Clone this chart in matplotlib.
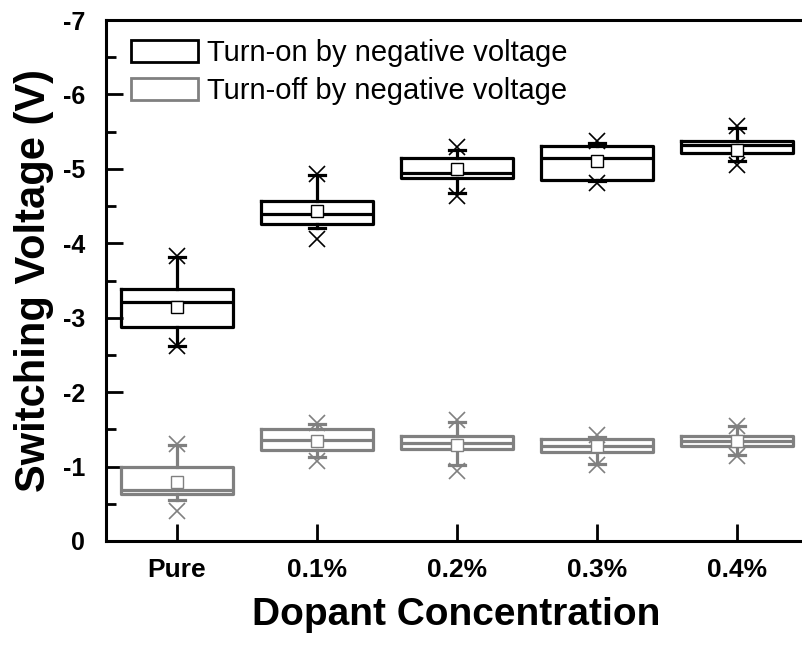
import matplotlib
matplotlib.use("Agg")
from matplotlib import pyplot as plt
from matplotlib.patches import Patch

plt.rcParams['font.family'] = ['Liberation Sans', 'DejaVu Sans']
plt.rcParams['axes.unicode_minus'] = False

categories = ['Pure', '0.1%', '0.2%', '0.3%', '0.4%']

# turn-on by negative voltage (black)
on_min = [-3.83, -4.93, -5.29, -5.38, -5.57]
on_whislo = [-3.82, -4.92, -5.26, -5.35, -5.55]
on_q1 = [-3.39, -4.57, -5.14, -5.31, -5.37]
on_med = [-3.21, -4.39, -4.95, -5.15, -5.32]
on_q3 = [-2.88, -4.26, -4.88, -4.85, -5.21]
on_whishi = [-2.62, -4.20, -4.67, -4.84, -5.11]
on_max = [-2.62, -4.06, -4.63, -4.81, -5.05]
on_mean = [-3.15, -4.43, -5.00, -5.11, -5.26]

# turn-off by negative voltage (gray)
off_min = [-1.30, -1.58, -1.62, -1.43, -1.55]
off_whislo = [-1.29, -1.57, -1.60, -1.40, -1.54]
off_q1 = [-0.99, -1.50, -1.41, -1.37, -1.41]
off_med = [-0.69, -1.36, -1.31, -1.27, -1.35]
off_q3 = [-0.63, -1.22, -1.23, -1.20, -1.27]
off_whishi = [-0.55, -1.13, -1.02, -1.03, -1.16]
off_max = [-0.40, -1.08, -0.94, -1.02, -1.14]
off_mean = [-0.79, -1.34, -1.29, -1.28, -1.34]

legend_labels = ['Turn-on by negative voltage', 'Turn-off by negative voltage']


def make_stats(mn, wlo, q1, med, q3, whi, mx, mean):
    stats = []
    for i in range(len(categories)):
        stats.append({'med': med[i], 'q1': q1[i], 'q3': q3[i],
                      'whislo': wlo[i], 'whishi': whi[i], 'mean': mean[i],
                      'fliers': [mn[i], mx[i]]})
    return stats


def draw_boxes(ax, stats, color):
    lw = 2.3
    ax.bxp(stats, positions=range(len(stats)), widths=0.8, capwidths=0.12,
           showmeans=True, manage_ticks=False,
           boxprops=dict(color=color, linewidth=lw),
           medianprops=dict(color=color, linewidth=lw),
           whiskerprops=dict(color=color, linewidth=lw),
           capprops=dict(color=color, linewidth=lw),
           flierprops=dict(marker='x', markeredgecolor=color, markersize=11,
                           markeredgewidth=1.2),
           meanprops=dict(marker='s', markerfacecolor='white',
                          markeredgecolor=color, markersize=8,
                          markeredgewidth=1.0))


fig = plt.figure(figsize=(8.03, 6.48), dpi=100)
ax = fig.add_axes([106 / 803, 107 / 648, 722 / 803, 521 / 648])

draw_boxes(ax, make_stats(on_min, on_whislo, on_q1, on_med, on_q3, on_whishi, on_max, on_mean), 'black')
draw_boxes(ax, make_stats(off_min, off_whislo, off_q1, off_med, off_q3, off_whishi, off_max, off_mean), '#808080')

ax.set_xlim(-0.507, 4.65)
ax.set_ylim(0, -7)
ax.set_yticks(range(0, -8, -1))
ax.set_yticks([-0.5 - i for i in range(7)], minor=True)
ax.set_xticks(range(len(categories)))
ax.set_xticklabels(categories, fontsize=19, fontweight='bold')
for lab in ax.get_yticklabels():
    lab.set_fontsize(18)
    lab.set_fontweight('bold')

ax.tick_params(axis='both', which='major', direction='in', length=12, width=2)
ax.tick_params(axis='y', which='major', pad=15)
ax.tick_params(axis='y', which='minor', direction='in', length=7, width=2)
ax.tick_params(axis='x', which='major', pad=12)
ax.tick_params(right=False, top=False)
for sp in ax.spines.values():
    sp.set_linewidth(2.2)

ax.set_xlabel('Dopant Concentration', fontsize=28, fontweight='bold')
ax.xaxis.set_label_coords(0.485, -0.108)
ax.set_ylabel('Switching Voltage (V)', fontsize=30, fontweight='bold', labelpad=6)

handles = [Patch(facecolor='white', edgecolor='black', linewidth=2),
           Patch(facecolor='white', edgecolor='#808080', linewidth=2)]
ax.legend(handles, legend_labels, loc='upper left', bbox_to_anchor=(0.01, 0.997),
          frameon=False, fontsize=21, handlelength=2.3, handleheight=0.8,
          handletextpad=0.3, labelspacing=0.35, borderaxespad=0.2)

fig.savefig('out.png', dpi=100)
